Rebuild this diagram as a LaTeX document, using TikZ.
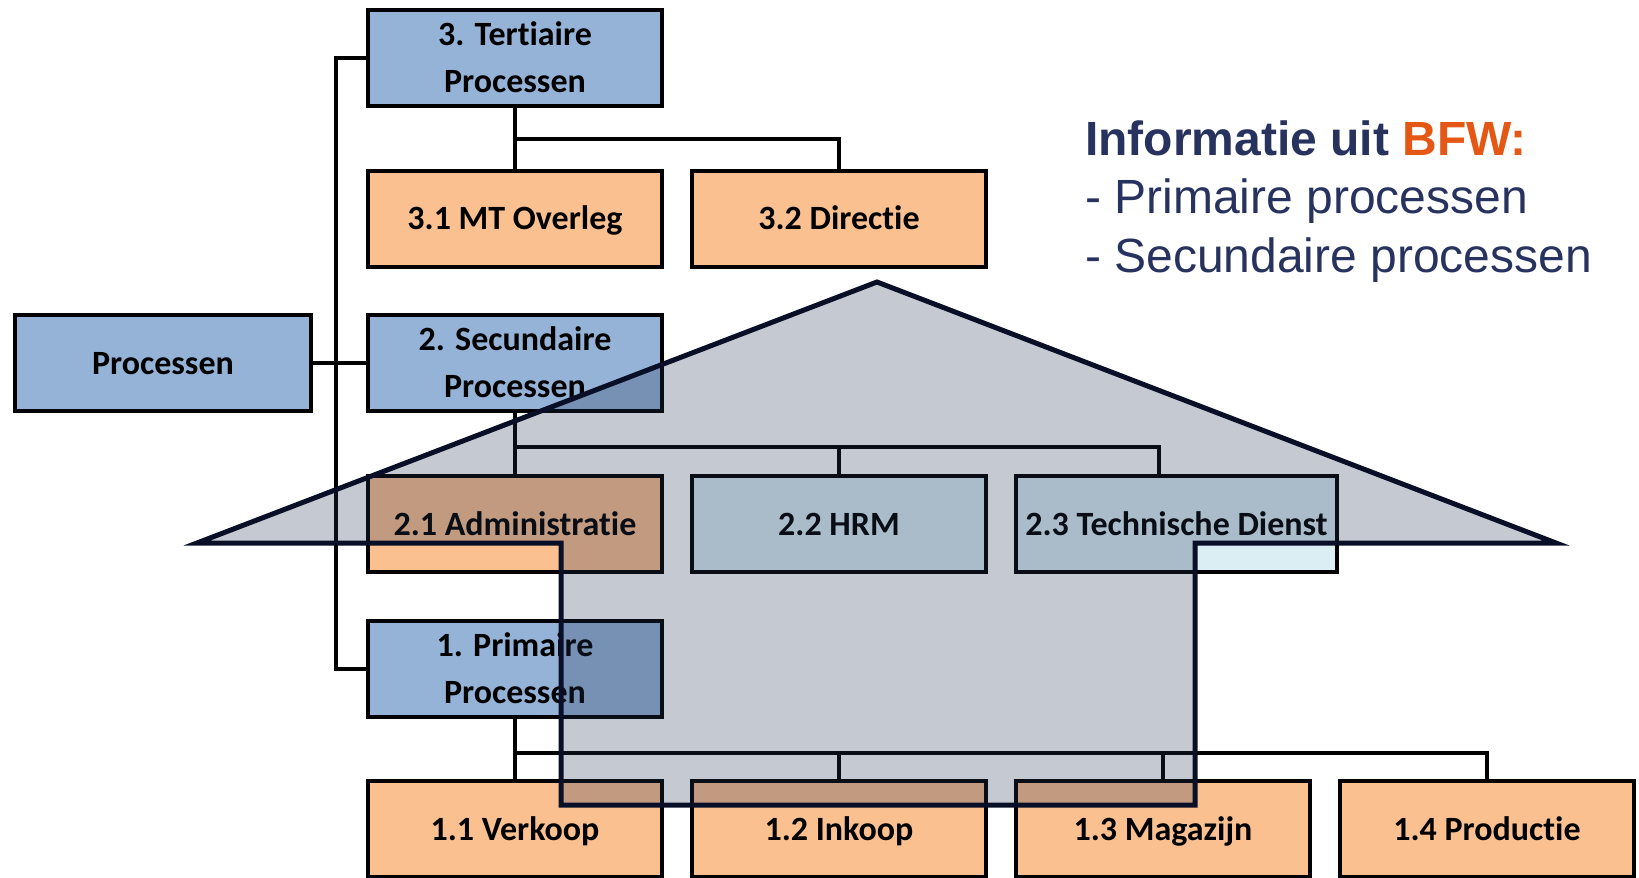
\documentclass[tikz,border=0pt]{standalone}
\usepackage{fontspec}
\newfontfamily\carlito[Ligatures=NoCommon]{Carlito}
\newfontfamily\arialf{Liberation Sans}
\definecolor{blueF}{RGB}{149,179,215}
\definecolor{orangeF}{RGB}{250,192,144}
\definecolor{aquaF}{RGB}{219,238,244}
\definecolor{navyT}{RGB}{40,50,95}
\definecolor{orangeT}{RGB}{228,87,20}
\definecolor{houseF}{RGB}{35,50,84}
\definecolor{houseL}{RGB}{10,15,40}
\begin{document}
\begin{tikzpicture}[x=1pt,y=-1pt,
  box/.style={draw=black, line width=4pt, minimum width=294pt, minimum height=96pt,
    inner sep=0pt, align=center, font=\carlito\bfseries\fontsize{34}{47}\selectfont,
    text height=22pt, text depth=0pt},
  twoline/.style={text height=69pt},
  bluebox/.style={box, fill=blueF},
  orangebox/.style={box, fill=orangeF},
  aquabox/.style={box, fill=aquaF},
  conn/.style={draw=black, line width=4pt},
  house/.style={draw=houseL, line width=5pt, fill=houseF, fill opacity=0.264, draw opacity=1, line join=miter},
  infotext/.style={anchor=base west, inner sep=0pt, font=\arialf\fontsize{48}{58}\selectfont, text=navyT}
]
\useasboundingbox (0,0) rectangle (1639,878);

% boxes
\node[bluebox, minimum width=296pt] (proc) at (163,363) {Processen};
\node[bluebox, twoline] (t3) at (515,57.5) {3. Tertiaire\\Processen};
\node[orangebox] (t31) at (515,218.5) {3.1 MT Overleg};
\node[orangebox] (t32) at (839,218.5) {3.2 Directie};
\node[bluebox, twoline] (s2) at (515,363) {2. Secundaire\\Processen};
\node[orangebox] (s21) at (515,524) {2.1 Administratie};
\node[aquabox] (s22) at (839,524) {2.2 HRM};
\node[aquabox, minimum width=321pt] (s23) at (1176.5,524) {2.3 Technische Dienst};
\node[bluebox, twoline] (p1) at (515,669) {1. Primaire\\Processen};
\node[orangebox] (p11) at (515,829) {1.1 Verkoop};
\node[orangebox] (p12) at (839,829) {1.2 Inkoop};
\node[orangebox] (p13) at (1163,829) {1.3 Magazijn};
\node[orangebox] (p14) at (1487,829) {1.4 Productie};

% connectors
\draw[conn] (t3.west) -- ++(-30,0) |- (p1.west);
\draw[conn] (proc.east) -- (s2.west);
\draw[conn] (t3.south) -- (t31.north);
\draw[conn] (t3.south) -- ++(0,31.5) coordinate (ht) -| (t32.north);
\draw[conn] (s2.south) -- (s21.north);
\coordinate (s23top) at ([xshift=145pt]s23.north west);
\draw[conn] (s2.south) -- ++(0,34) coordinate (hs) -| (s22.north);
\draw[conn] (hs) -| (s23top);
\draw[conn] (p1.south) -- (p11.north);
\draw[conn] (p1.south) -- ++(0,34) coordinate (hp) -| (p12.north);
\draw[conn] (hp) -| (p13.north);
\draw[conn] (hp) -| (p14.north);

% house overlay
\draw[house] (197,543) -- (877,282) -- (1556,543) -- (1195,543) -- (1195,805) -- (561,805) -- (561,543) -- cycle;

% info text
\node[infotext, font=\arialf\bfseries\fontsize{48}{58}\selectfont] (info1) at (1085,155) {Informatie uit \textcolor{orangeT}{BFW:}};
\node[infotext] (info2) at (1085,213.5) {- Primaire processen};
\node[infotext] (info3) at (1085,272) {- Secundaire processen};
\end{tikzpicture}
\end{document}
